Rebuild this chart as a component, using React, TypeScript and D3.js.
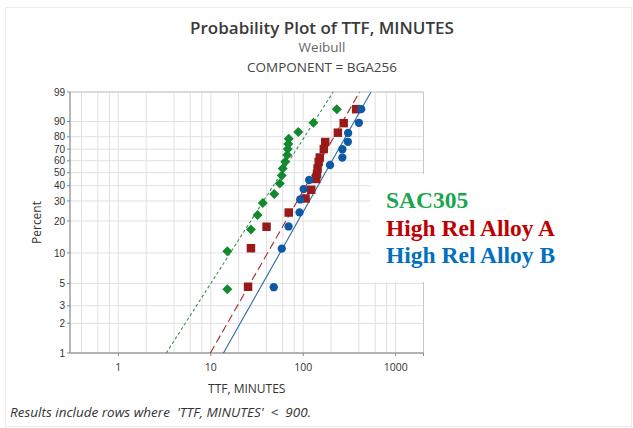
import React, { useEffect, useRef } from 'react';
import * as d3 from 'd3';

// axis ticks
const percentTicks = [1, 2, 3, 5, 10, 20, 30, 40, 50, 60, 70, 80, 90, 99];
const timeTicks = [1, 10, 100, 1000];
const timeGrid = [0.4, 0.6, 0.8, 1, 2, 4, 6, 8, 10, 20, 40, 60, 80, 100, 200, 400, 600, 800, 1000];

// SAC305 (green diamonds)
const sacTime = [15.1, 15.1, 27.2, 32.1, 36.5, 48.6, 55.7, 58.6, 60.0, 63.9, 67.1, 68.0, 68.9, 69.7, 88.3, 129, 231];
const sacPct = [4.4, 10.4, 16.7, 22.6, 28.8, 34.3, 41.6, 47.7, 53.4, 59.2, 65.0, 70.1, 74.3, 78.4, 83.5, 89.3, 95.4];

// High Rel Alloy A (red squares)
const alloyATime = [25.3, 27.2, 40.1, 69.7, 106, 122, 138, 141, 143, 147, 151, 167, 173, 237, 274, 374];
const alloyAPct = [4.65, 11.1, 17.7, 23.8, 31.5, 37.1, 45.0, 48.9, 53.4, 59.0, 62.8, 70.1, 75.9, 83.0, 89.1, 95.4];

// High Rel Alloy B (blue circles)
const alloyBTime = [48.0, 58.6, 69.4, 91.2, 92.8, 101, 116, 195, 265, 265, 304, 306, 400, 424];
const alloyBPct = [4.6, 11.0, 17.8, 23.9, 30.9, 37.6, 44.2, 56.4, 62.8, 69.9, 76.1, 82.8, 89.3, 95.4];

// fitted Weibull lines: time at 1% and at 99%
const fitPct = [1, 99];
const sacFit = [3.3, 211];
const alloyAFit = [9.9, 407];
const alloyBFit = [13.7, 540];

const legendNames = ['SAC305', 'High Rel Alloy A', 'High Rel Alloy B'];

const weib = (p: number) => Math.log(-Math.log(1 - p / 100));

export default function App() {
  const ref = useRef<SVGSVGElement>(null);

  useEffect(() => {
    const svg = d3.select(ref.current);
    svg.selectAll('*').remove();

    const font = "'Open Sans', 'Noto Sans', sans-serif";
    const left = 70, right = 423.5, top = 92, bottom = 353;

    const x = d3.scaleLog().domain([0.3, 2000]).range([left, right]);
    const yLin = d3.scaleLinear().domain([weib(1), weib(99)]).range([bottom, top]);
    const y = (p: number) => yLin(weib(p));

    // outer frame
    svg.append('rect')
      .attr('x', 5.5).attr('y', 7.5).attr('width', 626).attr('height', 419)
      .attr('fill', 'white').attr('stroke', '#ececec');

    // titles
    svg.append('text').attr('x', 322).attr('y', 34).attr('text-anchor', 'middle')
      .style('font', `600 17px ${font}`).attr('fill', '#3a3a3a')
      .text('Probability Plot of TTF, MINUTES');
    svg.append('text').attr('x', 322).attr('y', 52).attr('text-anchor', 'middle')
      .style('font', `13.5px ${font}`).attr('fill', '#666')
      .text('Weibull');
    svg.append('text').attr('x', 322).attr('y', 72).attr('text-anchor', 'middle')
      .style('font', `13.5px ${font}`).attr('fill', '#444')
      .text('COMPONENT = BGA256');

    // grid
    const g = svg.append('g');
    g.selectAll('.vgrid').data(timeGrid).enter().append('line')
      .attr('x1', d => x(d)).attr('x2', d => x(d))
      .attr('y1', top).attr('y2', bottom)
      .attr('stroke', '#e0e0e0').attr('stroke-width', 1);
    g.selectAll('.hgrid').data(percentTicks).enter().append('line')
      .attr('x1', left).attr('x2', right)
      .attr('y1', d => y(d)).attr('y2', d => y(d))
      .attr('stroke', '#e0e0e0').attr('stroke-width', 1);

    // plot frame
    g.append('rect')
      .attr('x', left).attr('y', top).attr('width', right - left).attr('height', bottom - top)
      .attr('fill', 'none').attr('stroke', '#c8c8c8');
    g.append('line').attr('x1', left).attr('x2', left).attr('y1', top).attr('y2', bottom).attr('stroke', '#8a8a8a');
    g.append('line').attr('x1', left).attr('x2', right).attr('y1', bottom).attr('y2', bottom).attr('stroke', '#8a8a8a');

    // y ticks
    g.selectAll('.yt').data(percentTicks).enter().append('line')
      .attr('x1', left - 3).attr('x2', left)
      .attr('y1', d => y(d)).attr('y2', d => y(d)).attr('stroke', '#8a8a8a');
    g.selectAll('.yl').data(percentTicks).enter().append('text')
      .attr('x', left - 5).attr('y', d => y(d)).attr('dy', '0.36em')
      .attr('text-anchor', 'end')
      .style('font', "10px 'Liberation Sans', Arial, sans-serif").attr('fill', '#333')
      .text(d => d);

    // x ticks
    g.selectAll('.xt').data(timeTicks.concat([2000])).enter().append('line')
      .attr('x1', d => x(d)).attr('x2', d => x(d))
      .attr('y1', bottom).attr('y2', bottom + 3).attr('stroke', '#8a8a8a');
    g.selectAll('.xl').data(timeTicks).enter().append('text')
      .attr('x', d => x(d)).attr('y', bottom + 18)
      .attr('text-anchor', 'middle').style('font', `10.5px ${font}`).attr('fill', '#333')
      .text(d => d);

    // axis titles
    svg.append('text').attr('transform', `translate(41,${(top + bottom) / 2}) rotate(-90)`)
      .attr('text-anchor', 'middle').style('font', `12px ${font}`).attr('fill', '#333')
      .text('Percent');
    svg.append('text').attr('x', (left + right) / 2).attr('y', 393)
      .attr('text-anchor', 'middle').style('font', `12px ${font}`).attr('fill', '#333')
      .text('TTF, MINUTES');

    // fitted lines
    const line = d3.line<[number, number]>().x(d => x(d[0])).y(d => y(d[1]));
    const fits = [
      { t: sacFit, color: '#3f8f4f', dash: '3,2.5' },
      { t: alloyAFit, color: '#a52a2a', dash: '8,4' },
      { t: alloyBFit, color: '#2b6aa3', dash: null },
    ];
    fits.forEach(f => {
      g.append('path')
        .attr('d', line(f.t.map((t, i) => [t, fitPct[i]] as [number, number])))
        .attr('fill', 'none').attr('stroke', f.color).attr('stroke-width', 1.1)
        .attr('stroke-dasharray', f.dash);
    });

    // points
    const series = [
      { t: sacTime, p: sacPct, color: '#12892e', sym: d3.symbolSquare, size: 50, rot: 45 },
      { t: alloyATime, p: alloyAPct, color: '#9a1a1a', sym: d3.symbolSquare, size: 72, rot: 0 },
      { t: alloyBTime, p: alloyBPct, color: '#0d59a5', sym: d3.symbolCircle, size: 54, rot: 0 },
    ];
    series.forEach(s => {
      g.selectAll(null).data(s.t).enter().append('path')
        .attr('d', d3.symbol().type(s.sym).size(s.size)())
        .attr('transform', (d, i) => `translate(${x(d)},${y(s.p[i])}) rotate(${s.rot})`)
        .attr('fill', s.color);
    });

    // legend box covering part of the plot
    svg.append('rect').attr('x', 370).attr('y', 174).attr('width', 215).attr('height', 108).attr('fill', 'white');
    const legendColors = ['#1aa64f', '#c00000', '#0070c0'];
    svg.selectAll('.leg').data(legendNames).enter().append('text')
      .attr('x', 386).attr('y', (d, i) => 208 + i * 27.5)
      .style('font', "bold 23.5px 'Liberation Serif', 'Times New Roman', serif")
      .attr('fill', (d, i) => legendColors[i])
      .text(d => d);

    // footnote
    svg.append('text').attr('x', 10).attr('y', 417)
      .style('font', `italic 13.5px ${font}`).attr('fill', '#333')
      .attr('xml:space', 'preserve')
      .text("Results include rows where  'TTF, MINUTES'  <  900.");
  }, []);

  return (
    <svg ref={ref} width={633} height={428}
      style={{ position: 'absolute', left: 0, top: 0, background: 'white' }} />
  );
}
